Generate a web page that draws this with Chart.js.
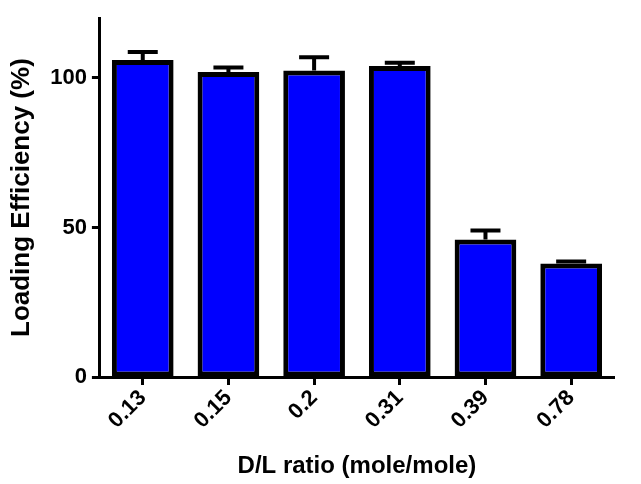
<!DOCTYPE html>
<html>
<head>
<meta charset="utf-8">
<script src="https://cdn.jsdelivr.net/npm/chart.js@4"></script>
<style>
  html, body { margin: 0; padding: 0; background: #fff; }
  #wrap { width: 641px; height: 484px; }
</style>
</head>
<body>
<div id="wrap"><canvas id="myChart" width="641" height="484"></canvas></div>
<script>
var ratios = ['0.13', '0.15', '0.2', '0.31', '0.39', '0.78'];
var efficiency = [106, 102, 102.5, 104, 46, 38];
var errors = [2.7, 1.5, 4.4, 1.1, 3, 0.6];
var yTicks = [0, 50, 100];

var FONT = '"Liberation Sans", Arial, sans-serif';

// upward SD whiskers with a cap, placed through the y scale
var errorBars = {
  id: 'errorBars',
  afterDatasetsDraw: function (chart) {
    var meta = chart.getDatasetMeta(0);
    var y = chart.scales.y;
    var c = chart.ctx;
    c.save();
    c.strokeStyle = '#000';
    c.lineWidth = 4;
    meta.data.forEach(function (bar, i) {
      var top = y.getPixelForValue(efficiency[i] + errors[i]);
      c.beginPath();
      c.moveTo(bar.x, bar.y);
      c.lineTo(bar.x, top);
      c.moveTo(bar.x - 15, top);
      c.lineTo(bar.x + 15, top);
      c.stroke();
    });
    c.restore();
  }
};

var ctx = document.getElementById('myChart').getContext('2d');
var myChart = new Chart(ctx, {
  type: 'bar',
  data: {
    labels: ratios,
    datasets: [{
      data: efficiency,
      backgroundColor: '#0000FF',
      borderColor: '#000000',
      borderWidth: 5,
      borderSkipped: false,
      barPercentage: 0.72,
      categoryPercentage: 1
    }]
  },
  options: {
    responsive: false,
    animation: false,
    layout: { padding: { top: 8, right: 27, left: 6, bottom: 3 } },
    plugins: { legend: { display: false }, tooltip: { enabled: false } },
    scales: {
      x: {
        offset: true,
        afterFit: function (scale) { scale.height = 104; },
        grid: { offset: false, drawOnChartArea: false, tickLength: 8, tickWidth: 3, tickColor: '#000' },
        border: { color: '#000', width: 3 },
        ticks: {
          color: '#000', maxRotation: 45, minRotation: 45, padding: 0,
          font: { family: FONT, size: 22, weight: 'bold' }
        },
        title: {
          display: true, text: 'D/L ratio (mole/mole)', color: '#000',
          font: { family: FONT, size: 24, weight: 'bold' }, padding: { top: 4, bottom: 0 }
        }
      },
      y: {
        min: 0, max: 120,
        afterBuildTicks: function (scale) {
          scale.ticks = yTicks.map(function (v) { return { value: v }; });
        },
        grid: { drawOnChartArea: false, tickLength: 8, tickWidth: 3, tickColor: '#000' },
        border: { color: '#000', width: 3 },
        ticks: {
          color: '#000', padding: 5,
          font: { family: FONT, size: 22, weight: 'bold' }
        },
        title: {
          display: true, text: 'Loading Efficiency (%)', color: '#000',
          font: { family: FONT, size: 26, weight: 'bold' }, padding: { top: 0, bottom: 8 }
        }
      }
    }
  },
  plugins: [errorBars]
});
</script>
</body>
</html>
